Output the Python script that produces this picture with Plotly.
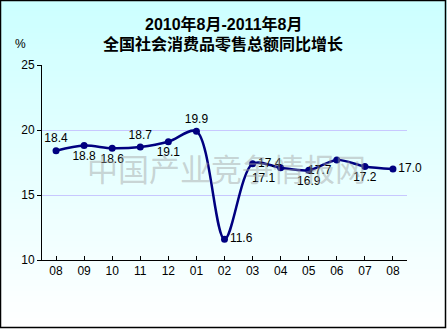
import plotly.graph_objects as go

# Monthly year-on-year growth of total retail sales of consumer goods (%)
months = ["08", "09", "10", "11", "12", "01", "02", "03", "04", "05", "06", "07", "08"]
growth = [18.4, 18.8, 18.6, 18.7, 19.1, 19.9, 11.6, 17.4, 17.1, 16.9, 17.7, 17.2, 17.0]
label_pos = ["top center", "bottom center", "bottom center", "top center", "bottom center",
             "top center", "middle right", "middle right", "bottom left", "bottom center",
             "bottom left", "bottom center", "middle right"]
y_ticks = [10, 15, 20, 25]

W, H = 447, 329
L, R, T, B = 42, 40, 65, 69
pw, ph = W - L - R, H - T - B

def px_to_paper_x(px):
    return (px - L) / pw

def px_to_paper_y(py):
    return (H - B - py) / ph

x_idx = list(range(len(months)))

fig = go.Figure()
fig.add_trace(go.Scatter(
    x=x_idx, y=growth,
    mode="lines+markers+text",
    line=dict(color="#000080", width=2.5, shape="spline", smoothing=0.9),
    marker=dict(color="#000080", size=7, symbol="circle"),
    text=[f"{v:.1f}" for v in growth],
    textposition=label_pos,
    textfont=dict(family="Liberation Sans, Arial, sans-serif", size=12, color="#000000"),
    cliponaxis=False,
    showlegend=False,
))

# vertical gradient background, cyan at the top fading to white
shapes = []
n = 60
top = (204, 255, 255)
bot = (255, 255, 255)
for i in range(n):
    f = i / (n - 1)
    c = tuple(round(top[k] + (bot[k] - top[k]) * f) for k in range(3))
    y0 = H * i / n
    y1 = H * (i + 1) / n + 1
    shapes.append(dict(
        type="rect", xref="paper", yref="paper", layer="below",
        x0=px_to_paper_x(0), x1=px_to_paper_x(W),
        y0=px_to_paper_y(y0), y1=px_to_paper_y(min(y1, H)),
        fillcolor="rgb(%d,%d,%d)" % c, line=dict(width=0),
    ))
# outer frame
shapes.append(dict(
    type="rect", xref="paper", yref="paper", layer="above",
    x0=px_to_paper_x(0.5), x1=px_to_paper_x(445.5),
    y0=px_to_paper_y(0.5), y1=px_to_paper_y(327.5),
    line=dict(color="#000000", width=1.5), fillcolor="rgba(0,0,0,0)",
))

title_font = dict(family="Liberation Sans, Noto Sans CJK SC, sans-serif", size=16, color="#000000")
annotations = [
    dict(text="<b>2010年8月-2011年8月</b>",
         xref="paper", yref="paper", x=px_to_paper_x(223), y=px_to_paper_y(24),
         xanchor="center", yanchor="middle", showarrow=False, font=title_font),
    dict(text="<b>全国社会消费品零售总额同比增长</b>",
         xref="paper", yref="paper", x=px_to_paper_x(223), y=px_to_paper_y(44),
         xanchor="center", yanchor="middle", showarrow=False, font=title_font),
    dict(text="%", xref="paper", yref="paper", x=px_to_paper_x(20), y=px_to_paper_y(44),
         xanchor="center", yanchor="middle", showarrow=False,
         font=dict(family="Liberation Sans, Arial, sans-serif", size=12, color="#000000")),
    dict(text="中国产业竞争情报网", xref="paper", yref="paper",
         x=px_to_paper_x(226), y=px_to_paper_y(167),
         xanchor="center", yanchor="middle", showarrow=False,
         font=dict(family="Noto Sans CJK SC, sans-serif", size=31, color="rgba(160,160,160,0.45)")),
]

fig.update_layout(
    width=W, height=H,
    margin=dict(l=L, r=R, t=T, b=B),
    paper_bgcolor="#ffffff",
    plot_bgcolor="rgba(0,0,0,0)",
    shapes=shapes,
    annotations=annotations,
    xaxis=dict(
        tickmode="array", tickvals=x_idx, ticktext=months,
        range=[-0.5, len(months) - 0.5],
        showline=True, linecolor="#000000", linewidth=1,
        ticks="inside", tickson="boundaries", ticklen=4, tickcolor="#000000",
        showgrid=False, zeroline=False,
        tickfont=dict(family="Liberation Sans, Arial, sans-serif", size=12, color="#000000"),
    ),
    yaxis=dict(
        range=[10, 25], tickvals=y_ticks,
        showline=True, linecolor="#000000", linewidth=1,
        ticks="outside", ticklen=4, tickcolor="#000000",
        showgrid=True, gridcolor="#C8C8FF", gridwidth=1, zeroline=False,
        tickfont=dict(family="Liberation Sans, Arial, sans-serif", size=12, color="#000000"),
    ),
)

fig.write_html("out.html")
